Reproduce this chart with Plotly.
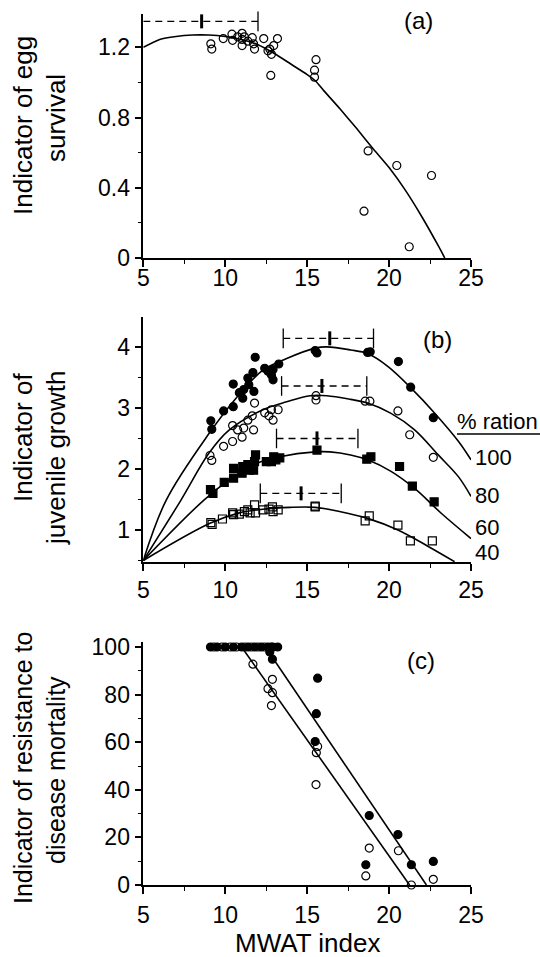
import plotly.graph_objects as go

FONT = "Liberation Sans, Arial, Helvetica, sans-serif"

# ---------------- Panel (a): egg survival ----------------
a_x = [9.12, 9.18, 9.88, 10.41, 10.45, 10.76, 11.03, 11.03, 11.03, 11.17, 11.38, 11.65,
       11.73, 11.79, 12.35, 12.61, 12.72, 12.82, 12.96, 13.19, 12.78, 15.54, 15.45, 15.45,
       18.72, 20.47, 22.59, 18.47, 21.23]
a_y = [1.22, 1.19, 1.25, 1.275, 1.24, 1.26, 1.28, 1.245, 1.21, 1.26, 1.235, 1.255,
       1.22, 1.19, 1.25, 1.18, 1.19, 1.16, 1.21, 1.25, 1.04, 1.13, 1.07, 1.03,
       0.61, 0.527, 0.47, 0.267, 0.064]
a_fit_x = [5, 6, 7, 8, 9, 10, 11, 12, 13, 14, 15, 15.5, 16, 17, 18, 19, 20, 21, 22, 23, 23.4]
a_fit_y = [1.20, 1.245, 1.262, 1.27, 1.27, 1.262, 1.245, 1.215, 1.165, 1.105, 1.045, 1.01,
           0.955, 0.85, 0.74, 0.625, 0.515, 0.385, 0.235, 0.07, 0.0]
a_bar = dict(y=1.348, lo=5.0, mid=8.56, hi=12.0)

# ---------------- Panel (b): juvenile growth ----------------
b100_x = [9.12, 9.18, 9.9, 10.49, 10.49, 10.86, 11.07, 11.13, 11.38, 11.44, 11.69, 11.75,
          11.83, 12.41, 12.61, 12.82, 12.92, 12.92, 13.27, 15.49, 15.6, 18.69, 18.85,
          20.57, 21.32, 22.7]
b100_y = [2.79, 2.65, 2.95, 3.39, 3.02, 3.25, 3.16, 3.30, 3.49, 3.38, 3.58, 3.27,
          3.83, 3.65, 3.60, 3.54, 3.63, 3.46, 3.72, 3.94, 3.90, 3.91, 3.92,
          3.76, 3.34, 2.84]
b80_x = [9.07, 9.18, 9.9, 10.45, 10.45, 10.76, 11.03, 11.13, 11.38, 11.65, 11.73, 11.79,
         12.41, 12.67, 12.82, 12.92, 13.23, 15.54, 15.54, 18.54, 18.83, 20.54, 21.26, 22.7]
b80_y = [2.22, 2.14, 2.37, 2.71, 2.45, 2.64, 2.52, 2.67, 2.80, 2.87, 2.64, 3.08,
         2.92, 2.87, 2.97, 2.80, 2.97, 3.20, 3.13, 3.11, 3.11, 2.95, 2.56, 2.19]
b60_x = [9.1, 9.25, 9.94, 10.51, 10.51, 11.03, 11.07, 11.38, 11.48, 11.73, 11.79, 11.85,
         12.51, 12.82, 12.96, 13.09, 13.33, 15.6, 18.64, 18.89, 20.64, 21.42, 22.75]
b60_y = [1.66, 1.60, 1.78, 1.85, 2.01, 1.93, 2.04, 2.07, 1.98, 1.98, 2.12, 2.23,
         2.12, 2.12, 2.20, 2.15, 2.18, 2.31, 2.16, 2.20, 2.04, 1.72, 1.46]
b40_x = [9.12, 9.2, 9.83, 10.45, 10.51, 10.86, 11.17, 11.38, 11.52, 11.79, 11.85, 12.3,
         12.67, 12.88, 12.92, 13.23, 15.49, 15.49, 18.54, 18.79, 20.54, 21.3, 22.64]
b40_y = [1.12, 1.09, 1.18, 1.28, 1.25, 1.26, 1.30, 1.33, 1.28, 1.41, 1.28, 1.33,
         1.34, 1.38, 1.30, 1.33, 1.39, 1.38, 1.15, 1.23, 1.08, 0.82, 0.82]

f100_x = [5, 6.4, 9.01, 10.66, 12.3, 13.75, 15.49, 16.2, 17.65, 18.69, 19.92, 21.36, 22.8, 24.24, 25]
f100_y = [0.5, 1.49, 2.58, 3.16, 3.62, 3.81, 3.98, 4.0, 3.95, 3.89, 3.68, 3.32, 2.91, 2.45, 2.15]
f80_x = [5, 7.3, 9.01, 10.25, 12.3, 13.75, 15.19, 16.2, 17.65, 18.69, 20.12, 21.56, 23.0, 24.24, 25]
f80_y = [0.5, 1.49, 2.26, 2.64, 2.97, 3.10, 3.20, 3.20, 3.14, 3.08, 2.91, 2.64, 2.23, 1.87, 1.55]
f60_x = [5, 8.7, 10.25, 11.9, 13.33, 15.49, 16.4, 17.65, 18.69, 20.12, 21.56, 23.2, 25]
f60_y = [0.5, 1.49, 1.82, 2.09, 2.20, 2.28, 2.28, 2.23, 2.15, 1.96, 1.68, 1.27, 0.86]
f40_x = [5, 9.07, 10.86, 12.3, 13.95, 15.49, 17.04, 18.69, 20.54, 22.39, 24.0]
f40_y = [0.5, 1.11, 1.28, 1.34, 1.37, 1.37, 1.30, 1.19, 1.0, 0.73, 0.48]

b_bars = [dict(y=4.14, lo=13.54, mid=16.38, hi=19.05),
          dict(y=3.36, lo=13.44, mid=15.9, hi=18.64),
          dict(y=2.50, lo=13.13, mid=15.6, hi=18.1),
          dict(y=1.60, lo=12.14, mid=14.63, hi=17.08)]
ration_labels = ["100", "80", "60", "40"]

# ---------------- Panel (c): disease resistance ----------------
c_fill_x = [9.1, 9.5, 10.0, 10.5, 11.0, 11.4, 11.8, 12.2, 12.6, 12.9, 13.2,
            12.88, 12.72, 15.64, 15.56, 15.49, 18.79, 20.54, 18.58, 21.36, 22.7]
c_fill_y = [100, 100, 100, 100, 100, 100, 100, 100, 100, 100, 100,
            94.9, 97.9, 86.9, 72.0, 60.3, 29.2, 21.2, 8.5, 8.5, 9.9]
c_open_x = [9.3, 9.8, 10.3, 10.7, 11.2, 11.6, 12.0, 12.4, 12.8,
            11.69, 12.88, 12.61, 12.88, 12.82, 15.64, 15.56, 15.54, 18.79, 20.57, 18.58, 21.36, 22.7]
c_open_y = [100, 100, 100, 100, 100, 100, 100, 100, 100,
            92.8, 86.4, 82.5, 80.8, 75.4, 58.2, 55.6, 42.2, 15.5, 14.4, 3.8, 0, 2.4]
c_fill_line_x = [12.45, 22.28]
c_fill_line_y = [100, 0]
c_open_line_x = [11.0, 21.25]
c_open_line_y = [100, 0]
c_bars = [dict(y=111.0, lo=5.0, mid=12.0, hi=12.68),
          dict(y=105.2, lo=5.0, mid=10.4, hi=11.2)]

x_ticks = [5, 10, 15, 20, 25]

fig = go.Figure()

def pts(x, y, sym, ax):
    fig.add_trace(go.Scatter(
        x=x, y=y, mode="markers", xaxis=ax[0], yaxis=ax[1], showlegend=False, cliponaxis=False,
        marker=dict(symbol=sym, size=8, color="black",
                    line=dict(color="black", width=1.2))))

def curve(x, y, ax, shape="spline", smooth=0.6):
    fig.add_trace(go.Scatter(
        x=x, y=y, mode="lines", xaxis=ax[0], yaxis=ax[1], showlegend=False,
        line=dict(color="black", width=1.6, shape=shape, smoothing=smooth)))

def vmark(x, y, ax, size, width):
    fig.add_trace(go.Scatter(
        x=[x], y=[y], mode="markers", xaxis=ax[0], yaxis=ax[1], showlegend=False,
        cliponaxis=False,
        marker=dict(symbol="line-ns", size=size, line=dict(color="black", width=width))))

def bar(b, ax):
    fig.add_trace(go.Scatter(
        x=[b["lo"], b["hi"]], y=[b["y"], b["y"]], mode="lines", xaxis=ax[0], yaxis=ax[1],
        showlegend=False, cliponaxis=False,
        line=dict(color="black", width=1.4, dash="7px,5px")))
    vmark(b["mid"], b["y"], ax, 10, 3)
    vmark(b["hi"], b["y"], ax, 14, 1.3)

A = ("x", "y")
B = ("x2", "y2")
C = ("x3", "y3")

# panel a
curve(a_fit_x, a_fit_y, A)
pts(a_x, a_y, "circle-open", A)
bar(a_bar, A)

# panel b
for fx, fy in [(f100_x, f100_y), (f80_x, f80_y), (f60_x, f60_y), (f40_x, f40_y)]:
    curve(fx, fy, B, smooth=1.0)
pts(b100_x, b100_y, "circle", B)
pts(b80_x, b80_y, "circle-open", B)
pts(b60_x, b60_y, "square", B)
pts(b40_x, b40_y, "square-open", B)
for bb in b_bars:
    vmark(bb["lo"], bb["y"], B, 14, 1.3)
    bar(bb, B)

# panel c
curve(c_fill_line_x, c_fill_line_y, C, shape="linear")
curve(c_open_line_x, c_open_line_y, C, shape="linear")
pts(c_open_x, c_open_y, "circle-open", C)
pts(c_fill_x, c_fill_y, "circle", C)
for cb in c_bars:
    bar(cb, C)

# ---------------- layout ----------------
W, H = 540, 957
xd = [143.3 / W, 471 / W]

def ydom(top, bot):
    return [1 - bot / H, 1 - top / H]

axis_common = dict(showline=True, linecolor="black", linewidth=1.5, ticks="outside",
                   tickcolor="black", tickwidth=1.5, ticklen=7, showgrid=False, zeroline=False,
                   automargin=False,
                   tickfont=dict(family=FONT, size=23, color="black"))

def xax(anchor, standoff):
    return dict(axis_common, domain=xd, range=[5, 25], anchor=anchor,
                tickvals=x_ticks, ticklabelstandoff=standoff,
                minor=dict(ticks="outside", ticklen=4, tickwidth=1.2, tickcolor="black",
                           tick0=5, dtick=2.5))

a_ticks = [0, 0.4, 0.8, 1.2]
b_ticks = [1, 2, 3, 4]
c_ticks = [0, 20, 40, 60, 80, 100]

fig.update_layout(
    width=W, height=H, margin=dict(l=0, r=0, t=0, b=0),
    paper_bgcolor="white", plot_bgcolor="white",
    font=dict(family=FONT, color="black"),
    xaxis=xax("y", -8), xaxis2=xax("y2", 0), xaxis3=xax("y3", 2),
    yaxis=dict(axis_common, domain=ydom(14, 258), range=[0, 1.39], anchor="x",
               tickvals=a_ticks, ticktext=["0", "0.4", "0.8", "1.2"],
               minor=dict(ticks="outside", ticklen=4, tickwidth=1.2, tickcolor="black",
                          tick0=0, dtick=0.2)),
    yaxis2=dict(axis_common, domain=ydom(317, 562), range=[0.475, 4.49], anchor="x2",
                tickvals=b_ticks,
                minor=dict(ticks="outside", ticklen=4, tickwidth=1.2, tickcolor="black",
                           tick0=0, dtick=0.5)),
    yaxis3=dict(axis_common, domain=ydom(642, 885), range=[0, 102.1], anchor="x3",
                tickvals=c_ticks,
                minor=dict(ticks="outside", ticklen=4, tickwidth=1.2, tickcolor="black",
                           tick0=0, dtick=10)),
)

def ann(text, px, py, size=26, angle=0, xanchor="center"):
    fig.add_annotation(text=text, x=px / W, y=1 - py / H, xref="paper", yref="paper",
                       showarrow=False, textangle=angle, xanchor=xanchor, yanchor="middle",
                       font=dict(family=FONT, size=size, color="black"))

# y-axis titles (two lines each)
ann("Indicator of egg", 23, 126, angle=-90)
ann("survival", 56, 118, angle=-90)
ann("Indicator of", 23, 438, angle=-90)
ann("juvenile growth", 56, 458, angle=-90)
ann("Indicator of resistance to", 23, 768, angle=-90, size=25)
ann("disease mortality", 56, 770, angle=-90, size=25)
# x title
ann("MWAT index", 307, 943)
# panel labels
ann("(a)", 418, 20, size=24)
ann("(b)", 437, 340, size=24)
ann("(c)", 421, 660, size=24)
# ration legend
ann("% ration", 497, 421, size=22)
fig.add_shape(type="line", xref="paper", yref="paper", x0=457 / W, x1=540 / W,
              y0=1 - 434 / H, y1=1 - 434 / H, line=dict(color="black", width=1.3))
for lab, py in zip(ration_labels, [457, 495, 527, 552]):
    ann(lab, 473, py, size=22, xanchor="left")

fig.write_html("out.html", config={"displayModeBar": False},
               post_script="document.body.style.margin='0px';document.body.style.overflow='hidden';")
